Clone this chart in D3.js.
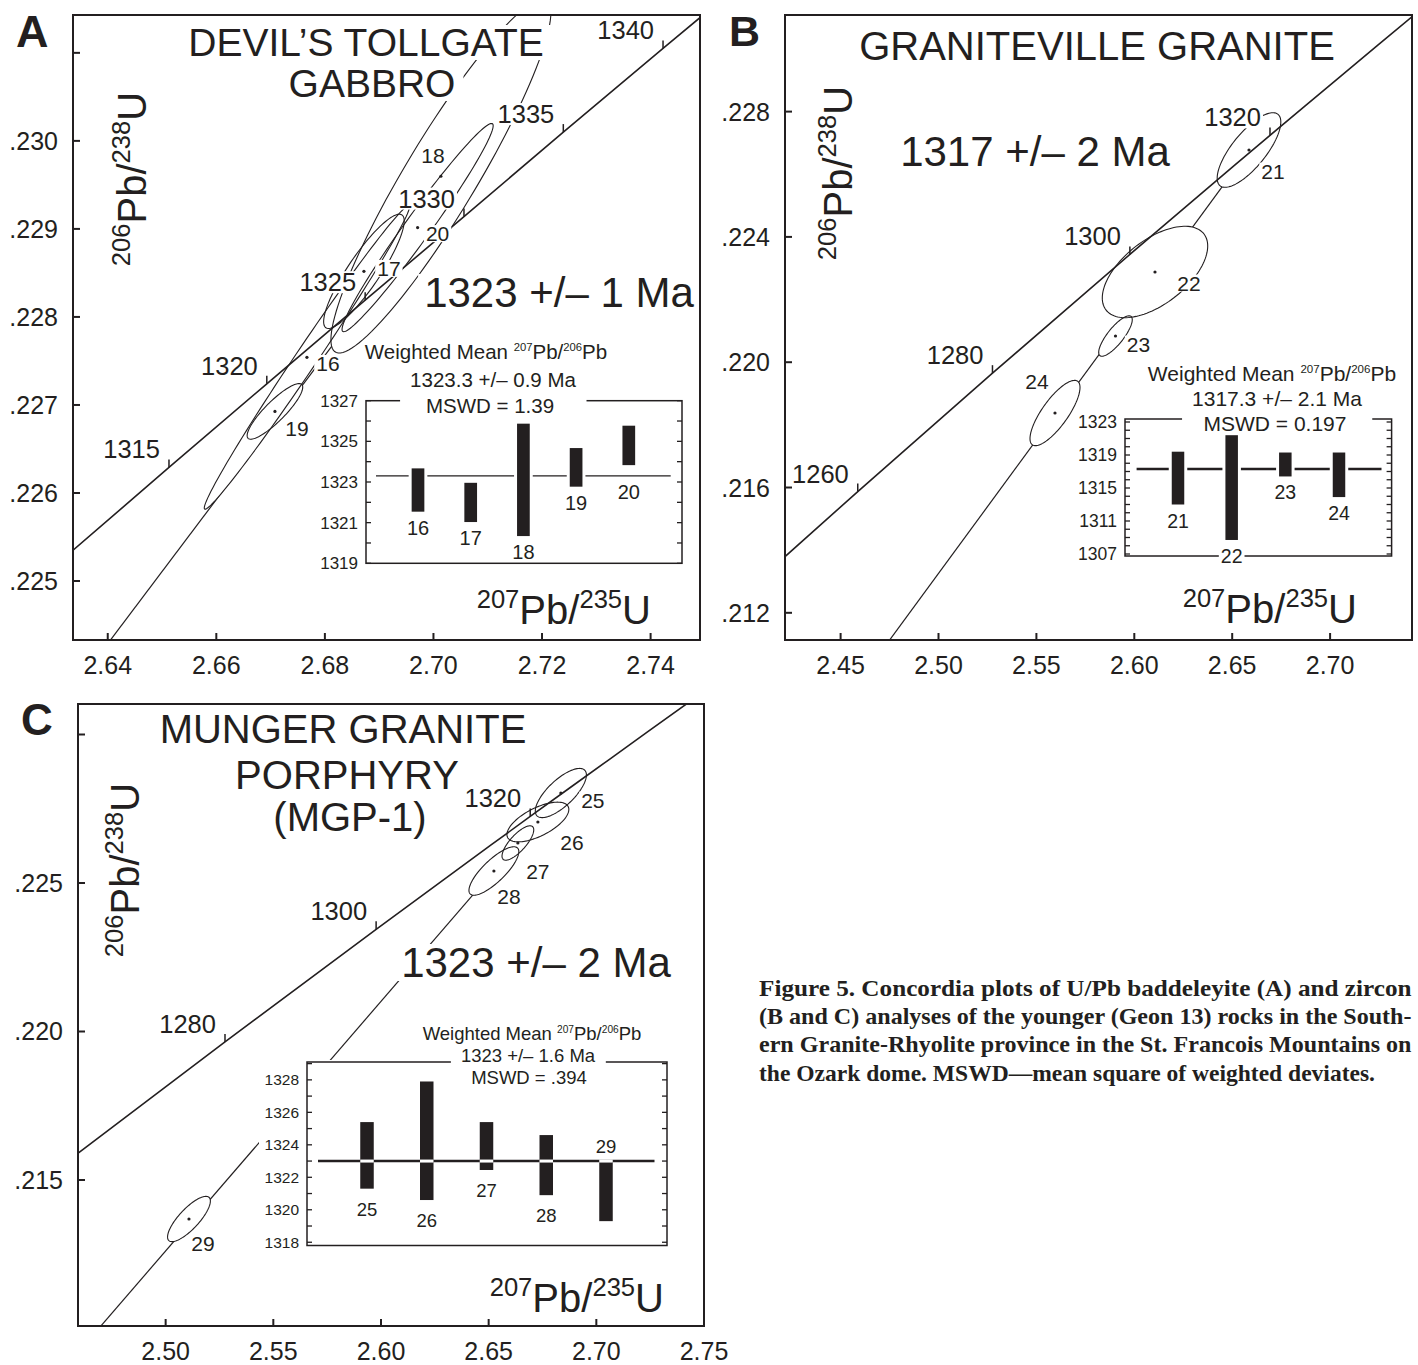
<!DOCTYPE html>
<meta charset="utf-8">
<style>
  body {margin: 0; background: #fff;}
  svg {display: block; font-family: 'Liberation Sans', Arial, sans-serif;}
  text {fill: #231f20;}
</style>

<svg width="1418" height="1365"></svg>

<script src="https://cdnjs.cloudflare.com/ajax/libs/d3/7.8.5/d3.min.js"></script>
<script>

// CONCORDIA REFERENCE POINTS (age Ma, 207Pb/235U, 206Pb/238U)
var concAge = [1240, 1260, 1280, 1300, 1315, 1320, 1325, 1330, 1335, 1340, 1360];
var conc207 = [2.39130, 2.45876, 2.52756, 2.59774, 2.65128, 2.66930, 2.68742, 2.70562, 2.72392, 2.74229, 2.81674];
var conc206 = [0.21210, 0.21587, 0.21965, 0.22344, 0.22629, 0.22724, 0.22819, 0.22914, 0.23010, 0.23105, 0.23488];

// A - DEVIL'S TOLLGATE GABBRO
var aFrac    = [16, 17, 18, 19, 20];
var a207     = [2.67669, 2.68719, 2.70137, 2.67080, 2.69708];
var a207err  = [0.01891, 0.00742, 0.02026, 0.00512, 0.01392];
var a206     = [0.227541, 0.228518, 0.229598, 0.226927, 0.229015];
var a206err  = [0.001725, 0.000649, 0.002008, 0.000316, 0.001183];
var aRho     = [0.992, 0.881, 0.925, 0.871, 0.978];
var aDisc207 = [2.630, 2.700];
var aDisc206 = [0.22347, 0.22920];
var aAges    = [1315, 1320, 1325, 1330, 1335, 1340];
var aXTicks  = [2.64, 2.66, 2.68, 2.70, 2.72, 2.74];
var aYTicks  = [0.225, 0.226, 0.227, 0.228, 0.229, 0.230, 0.231];
var aYLabels = [0.225, 0.226, 0.227, 0.228, 0.229, 0.230];
var aAgeLo   = [1321.54, 1321.03, 1320.34, 1322.77, 1323.83];
var aAgeHi   = [1323.67, 1322.96, 1325.87, 1324.67, 1325.77];
var aMean    = 1323.3;
var aAgeTicks = [1319, 1321, 1323, 1325, 1327];

// B - GRANITEVILLE GRANITE
var bFrac    = [21, 22, 23, 24];
var b207     = [2.65858, 2.61057, 2.59039, 2.55950];
var b207err  = [0.01625, 0.02692, 0.00857, 0.01277];
var b206     = [0.226774, 0.222880, 0.220836, 0.218378];
var b206err  = [0.001191, 0.001459, 0.000645, 0.001042];
var bRho     = [0.752, 0.568, 0.807, 0.783];
var bDisc207 = [2.460, 2.6586];
var bDisc206 = [0.20985, 0.22677];
var bAges    = [1260, 1280, 1300, 1320];
var bXTicks  = [2.45, 2.50, 2.55, 2.60, 2.65, 2.70];
var bYTicks  = [0.212, 0.216, 0.220, 0.224, 0.228];
var bYLabels = [0.212, 0.216, 0.220, 0.224, 0.228];
var bAgeLo   = [1313.0, 1308.7, 1316.4, 1313.9];
var bAgeHi   = [1319.4, 1321.4, 1319.3, 1319.3];
var bMean    = 1317.3;
var bAgeTicks = [1307, 1311, 1315, 1319, 1323];

// C - MUNGER GRANITE PORPHYRY
var cFrac    = [25, 26, 27, 28, 29];
var c207     = [2.68353, 2.67286, 2.66357, 2.65243, 2.51083];
var c207err  = [0.011866, 0.01437, 0.007368, 0.011578, 0.00994];
var c206     = [0.228030, 0.227054, 0.226347, 0.225404, 0.213687];
var c206err  = [0.000828, 0.000668, 0.000579, 0.000816, 0.000762];
var cRho     = [0.731, 0.632, 0.765, 0.800, 0.793];
var cDisc207 = [2.460, 2.6835];
var cDisc206 = [0.20925, 0.22803];
var cAges    = [1280, 1300, 1320];
var cXTicks  = [2.50, 2.55, 2.60, 2.65, 2.70, 2.75];
var cYTicks  = [0.215, 0.220, 0.225, 0.230];
var cYLabels = [0.215, 0.220, 0.225];
var cAgeLo   = [1321.3, 1320.6, 1322.45, 1320.9, 1319.3];
var cAgeHi   = [1325.4, 1327.9, 1325.4, 1324.6, 1323.0];
var cMean    = 1323;
var cAgeTicks = [1318, 1320, 1322, 1324, 1326, 1328];
var cLabelSide = ["below", "below", "below", "below", "above"];

var caption = [
  "Figure 5. Concordia plots of U/Pb baddeleyite (A) and zircon",
  "(B and C) analyses of the younger (Geon 13) rocks in the South-",
  "ern Granite-Rhyolite province in the St. Francois Mountains on",
  "the Ozark dome. MSWD\u2014mean square of weighted deviates."
];

var svg = d3.select("svg"),
    ink = "#231f20";

function ellipsePts(cx, cy, sx, sy, rho) {
  var pts = [], k = Math.sqrt(1 - rho * rho);
  for (var i = 0; i <= 120; i++) {
    var t = 2 * Math.PI * i / 120;
    pts.push([cx + sx * Math.cos(t), cy + sy * (rho * Math.cos(t) + k * Math.sin(t))]);
  }
  return pts;
}

// white box behind a text so the lines under it drop out
function knock(layer, t, px, py) {
  var b = t.node().getBBox();
  layer.append("rect")
    .attr("x", b.x - px).attr("y", b.y - py)
    .attr("width", b.width + 2 * px).attr("height", b.height + 2 * py)
    .attr("fill", "#fff");
}

function ratio(t, a, b, c, d, size, supScale) {
  var s = size * supScale, up = size * 0.4;
  t.append("tspan").attr("font-size", s).attr("dy", -up).text(a);
  t.append("tspan").attr("font-size", size).attr("dy", up).text(b);
  t.append("tspan").attr("font-size", s).attr("dy", -up).text(c);
  t.append("tspan").attr("font-size", size).attr("dy", up).text(d);
}

function drawPanel(p) {
  var x = d3.scaleLinear().domain(p.xDomain).range([p.left, p.right]),
      y = d3.scaleLinear().domain(p.yDomain).range([p.bottom, p.top]);
  var line = d3.line().x(function(d) { return x(d[0]); }).y(function(d) { return y(d[1]); });
  var g = svg.append("g");

  g.append("clipPath").attr("id", "clip" + p.letter)
    .append("rect")
    .attr("x", p.left).attr("y", p.top)
    .attr("width", p.right - p.left).attr("height", p.bottom - p.top);

  var marks = g.append("g").attr("clip-path", "url(#clip" + p.letter + ")");

  // discordia
  marks.append("path")
    .attr("d", line(d3.zip(p.disc207, p.disc206)))
    .attr("fill", "none").attr("stroke", ink).attr("stroke-width", 1.2);

  var ells = p.frac.map(function(id, i) {
    return {id: id, i: i, cx: p.r207[i], cy: p.r206[i],
            pts: ellipsePts(p.r207[i], p.r206[i], p.e207[i], p.e206[i], p.rho[i])};
  });

  marks.selectAll(".efill").data(ells).enter().append("path")
    .attr("d", function(d) { return line(d.pts) + "Z"; })
    .attr("fill", "#fff");
  marks.selectAll(".eline").data(ells).enter().append("path")
    .attr("d", function(d) { return line(d.pts) + "Z"; })
    .attr("fill", "none").attr("stroke", ink).attr("stroke-width", 1.1);
  marks.selectAll(".dot").data(ells).enter().append("circle")
    .attr("cx", function(d) { return x(d.cx); })
    .attr("cy", function(d) { return y(d.cy); })
    .attr("r", 1.6).attr("fill", ink);

  // concordia
  marks.append("path")
    .attr("d", line(d3.zip(conc207, conc206)))
    .attr("fill", "none").attr("stroke", ink).attr("stroke-width", 1.6);

  var ages = concAge.map(function(a, i) { return {age: a, x: conc207[i], y: conc206[i]}; })
    .filter(function(d) { return p.ages.indexOf(d.age) >= 0; });

  marks.selectAll(".ctick").data(ages).enter().append("line")
    .attr("x1", function(d) { return x(d.x); })
    .attr("x2", function(d) { return x(d.x); })
    .attr("y1", function(d) { return y(d.y); })
    .attr("y2", function(d) { return y(d.y) - 8; })
    .attr("stroke", ink).attr("stroke-width", 1.5);

  var bg = g.append("g"), tx = g.append("g");

  function put(xp, yp, str, size, anchor) {
    return tx.append("text")
      .attr("x", xp).attr("y", yp)
      .attr("font-size", size)
      .attr("text-anchor", anchor || "start")
      .text(str);
  }

  ages.forEach(function(d) {
    knock(bg, put(x(d.x) - 9, y(d.y) - 9, d.age, 25.5, "end"), 2, -3);
  });

  ells.forEach(function(d) {
    var t = put(x(d.cx) + p.labDx[d.i], y(d.cy) + p.labDy[d.i], d.id, 21, "middle")
      .attr("dy", "0.36em");
    knock(bg, t, 2, -3);
  });

  p.title.forEach(function(s) {
    knock(bg, put(s[1], s[2], s[0], p.titleSize, "middle"), 8, -4);
  });
  knock(bg, put(p.result[1], p.result[2], p.result[0], 42, "middle"), 6, -5);

  // axis titles
  var xt = tx.append("text")
    .attr("x", p.xTitle[0]).attr("y", p.xTitle[1])
    .attr("text-anchor", "end");
  ratio(xt, "207", "Pb/", "235", "U", 40, 0.64);
  knock(bg, xt, 4, -4);

  var yt = tx.append("text")
    .attr("transform", "translate(" + p.yTitle[0] + "," + p.yTitle[1] + ") rotate(-90)")
    .attr("text-anchor", "middle");
  ratio(yt, "206", "Pb/", "238", "U", 40, 0.64);

  if (p.inset) drawInset(g, p.inset);

  // frame and axes
  g.append("rect")
    .attr("x", p.left).attr("y", p.top)
    .attr("width", p.right - p.left).attr("height", p.bottom - p.top)
    .attr("fill", "none").attr("stroke", ink).attr("stroke-width", 2);

  g.selectAll(".xt").data(p.xTicks).enter().append("line")
    .attr("x1", x).attr("x2", x)
    .attr("y1", p.bottom).attr("y2", p.bottom - 7)
    .attr("stroke", ink).attr("stroke-width", 2);
  g.selectAll(".xl").data(p.xTicks).enter().append("text")
    .attr("x", x).attr("y", p.bottom + 34)
    .attr("text-anchor", "middle").attr("font-size", 25)
    .text(d3.format(".2f"));

  g.selectAll(".yt").data(p.yTicks).enter().append("line")
    .attr("x1", p.left).attr("x2", p.left + 7)
    .attr("y1", y).attr("y2", y)
    .attr("stroke", ink).attr("stroke-width", 2);
  g.selectAll(".yl").data(p.yLabels).enter().append("text")
    .attr("x", p.left - 15).attr("y", y).attr("dy", "0.36em")
    .attr("text-anchor", "end").attr("font-size", 25)
    .text(function(d) { return d3.format(".3f")(d).replace(/^0/, ""); });

  g.append("text")
    .attr("x", p.letterPos[0]).attr("y", p.letterPos[1])
    .attr("font-size", p.letterSize).attr("font-weight", "bold")
    .text(p.letter);
}

function drawInset(parent, s) {
  var y = d3.scaleLinear().domain(s.dom).range(s.yRange),
      x = d3.scalePoint().domain(s.frac).range(s.barX);
  var g = parent.append("g");
  var bg = g.append("g");

  // white ground for box and tick labels
  bg.append("rect")
    .attr("x", s.x0 - 48).attr("y", s.y0 - 2)
    .attr("width", s.x1 - s.x0 + 50).attr("height", s.y1 - s.y0 + 4)
    .attr("fill", "#fff");

  g.append("rect")
    .attr("x", s.x0).attr("y", s.y0)
    .attr("width", s.x1 - s.x0).attr("height", s.y1 - s.y0)
    .attr("fill", "none").attr("stroke", ink).attr("stroke-width", 1.5);

  var minor = d3.range(Math.ceil(s.dom[0]), Math.floor(s.dom[1]) + 1);
  [[s.x0, 1], [s.x1, -1]].forEach(function(side) {
    g.selectAll(null).data(minor).enter().append("line")
      .attr("x1", side[0]).attr("x2", side[0] + side[1] * 5)
      .attr("y1", y).attr("y2", y)
      .attr("stroke", ink).attr("stroke-width", 1.3);
  });
  g.selectAll(null).data(s.ticks).enter().append("text")
    .attr("x", s.x0 - 8).attr("y", y).attr("dy", "0.36em")
    .attr("text-anchor", "end").attr("font-size", s.tickSize)
    .text(function(d) { return d; });

  // title
  var tbg = g.append("g"), tg = g.append("g");
  var t1 = tg.append("text").attr("x", s.titleX[0]).attr("y", s.titleY[0])
    .attr("text-anchor", "middle").attr("font-size", s.titleSize);
  t1.append("tspan").text("Weighted Mean ");
  ratio(t1, "207", "Pb/", "206", "Pb", s.titleSize, 0.55);
  var t2 = tg.append("text").attr("x", s.titleX[1]).attr("y", s.titleY[1])
    .attr("text-anchor", "middle").attr("font-size", s.titleSize).text(s.lines[0]);
  var t3 = tg.append("text").attr("x", s.titleX[2]).attr("y", s.titleY[2])
    .attr("text-anchor", "middle").attr("font-size", s.titleSize).text(s.lines[1]);
  knock(tbg, t1, 2, -3);
  var b2 = t2.node().getBBox(), b3 = t3.node().getBBox();
  tbg.append("rect")
    .attr("x", b2.x - s.titlePad).attr("y", b2.y + 3)
    .attr("width", b2.width + 2 * s.titlePad).attr("height", b3.y + b3.height - b2.y - 6)
    .attr("fill", "#fff");

  // weighted mean line
  g.append("line")
    .attr("x1", s.meanX[0]).attr("x2", s.meanX[1])
    .attr("y1", y(s.mean)).attr("y2", y(s.mean))
    .attr("stroke", ink).attr("stroke-width", s.meanW);

  var bars = s.frac.map(function(id, i) { return {id: id, lo: s.lo[i], hi: s.hi[i], side: s.side ? s.side[i] : "below"}; });

  if (s.style === "gap") {
    g.selectAll(null).data(bars).enter().append("rect")
      .attr("x", function(d) { return x(d.id) - s.barW / 2 - 3; })
      .attr("y", function(d) { return y(d.hi); })
      .attr("width", s.barW + 6)
      .attr("height", function(d) { return y(d.lo) - y(d.hi); })
      .attr("fill", "#fff");
  }
  g.selectAll(null).data(bars).enter().append("rect")
    .attr("x", function(d) { return x(d.id) - s.barW / 2; })
    .attr("y", function(d) { return y(d.hi); })
    .attr("width", s.barW)
    .attr("height", function(d) { return y(d.lo) - y(d.hi); })
    .attr("fill", ink);
  if (s.style === "cut") {
    g.selectAll(null).data(bars.filter(function(d) { return d.lo < s.mean && d.hi > s.mean - 0.2; }))
      .enter().append("line")
      .attr("x1", function(d) { return x(d.id) - s.barW / 2; })
      .attr("x2", function(d) { return x(d.id) + s.barW / 2; })
      .attr("y1", y(s.mean)).attr("y2", y(s.mean))
      .attr("stroke", "#fff").attr("stroke-width", 3);
  }

  var lbg = g.append("g"), lg = g.append("g");
  bars.forEach(function(d) {
    var yp = d.side === "above"
      ? Math.min(y(d.hi), y(s.mean)) - 8
      : Math.max(y(d.lo), y(s.mean)) + s.labelGap;
    var t = lg.append("text")
      .attr("x", x(d.id)).attr("y", Math.min(yp, s.y1 + 7))
      .attr("text-anchor", "middle").attr("font-size", s.labelSize)
      .text(d.id);
    knock(lbg, t, 2, -3);
  });
}

drawPanel({
  letter: "A", letterPos: [16, 47], letterSize: 45,
  left: 73, right: 700, top: 15, bottom: 640,
  xDomain: [2.6336, 2.7491], yDomain: [0.22433, 0.23143],
  xTicks: aXTicks, yTicks: aYTicks, yLabels: aYLabels,
  frac: aFrac, r207: a207, e207: a207err, r206: a206, e206: a206err, rho: aRho,
  disc207: aDisc207, disc206: aDisc206, ages: aAges,
  labDx: [21, 25, -8, 22, 20], labDy: [6, -3, -21, 17, 6],
  title: [["DEVIL\u2019S TOLLGATE", 366, 56], ["GABBRO", 372, 97]], titleSize: 39,
  result: ["1323 +/\u2013 1 Ma", 559, 307],
  xTitle: [651, 624], yTitle: [146, 179],
  inset: {
    frac: aFrac, lo: aAgeLo, hi: aAgeHi, mean: aMean, ticks: aAgeTicks,
    x0: 366, x1: 682, y0: 400.7, y1: 563.3,
    dom: [1319, 1327], yRange: [563.3, 400.7],
    barX: [418, 628.8], barW: 12.7, meanX: [376, 670.7], meanW: 1.3, style: "gap",
    lines: ["1323.3 +/\u2013 0.9 Ma", "MSWD = 1.39"],
    titleX: [486, 493, 490], titleY: [359, 386.7, 412.7], titleSize: 20.5, titlePad: 10,
    tickSize: 17, labelSize: 20, labelGap: 23
  }
});

drawPanel({
  letter: "B", letterPos: [729, 46], letterSize: 43,
  left: 785, right: 1412, top: 15, bottom: 640,
  xDomain: [2.4216, 2.74183], yDomain: [0.211132, 0.231084],
  xTicks: bXTicks, yTicks: bYTicks, yLabels: bYLabels,
  frac: bFrac, r207: b207, e207: b207err, r206: b206, e206: b206err, rho: bRho,
  disc207: bDisc207, disc206: bDisc206, ages: bAges,
  labDx: [24, 34, 23, -18], labDy: [21, 11, 8, -32],
  title: [["GRANITEVILLE GRANITE", 1097, 60]], titleSize: 40,
  result: ["1317 +/\u2013 2 Ma", 1035, 166],
  xTitle: [1357, 623], yTitle: [852, 173],
  inset: {
    frac: bFrac, lo: bAgeLo, hi: bAgeHi, mean: bMean, ticks: bAgeTicks,
    x0: 1125, x1: 1391.6, y0: 419, y1: 556,
    dom: [1307, 1323], yRange: [554, 422],
    barX: [1178, 1339], barW: 12.5, meanX: [1136.6, 1381.5], meanW: 2.4, style: "gap",
    lines: ["1317.3 +/\u2013 2.1 Ma", "MSWD = 0.197"],
    titleX: [1272, 1277, 1275], titleY: [381, 406, 431], titleSize: 21, titlePad: 10,
    tickSize: 17.5, labelSize: 19.5, labelGap: 23
  }
});

drawPanel({
  letter: "C", letterPos: [21, 735], letterSize: 44,
  left: 78, right: 704, top: 704, bottom: 1326,
  xDomain: [2.4593, 2.75], yDomain: [0.210084, 0.231027],
  xTicks: cXTicks, yTicks: cYTicks, yLabels: cYLabels,
  frac: cFrac, r207: c207, e207: c207err, r206: c206, e206: c206err, rho: cRho,
  disc207: cDisc207, disc206: cDisc206, ages: cAges,
  labDx: [32, 34, 20, 15, 14], labDy: [7, 20, 28, 25, 24],
  title: [["MUNGER GRANITE", 343, 743], ["PORPHYRY", 347, 789], ["(MGP-1)", 350, 831]], titleSize: 40,
  result: ["1323 +/\u2013 2 Ma", 536, 977],
  xTitle: [664, 1312], yTitle: [139, 870],
  inset: {
    frac: cFrac, lo: cAgeLo, hi: cAgeHi, mean: cMean, ticks: cAgeTicks, side: cLabelSide,
    x0: 307, x1: 667, y0: 1062, y1: 1245.5,
    dom: [1317.8, 1329.1], yRange: [1245.5, 1062],
    barX: [367, 606], barW: 13.5, meanX: [318, 654.5], meanW: 2.6, style: "cut",
    lines: ["1323 +/\u2013 1.6 Ma", "MSWD = .394"],
    titleX: [532, 528, 529], titleY: [1040, 1062, 1084], titleSize: 18.5, titlePad: 10,
    tickSize: 15.5, labelSize: 18.5, labelGap: 27
  }
});

// CAPTION
svg.append("g").selectAll("text").data(caption).enter().append("text")
  .attr("x", 759)
  .attr("y", function(d, i) { return 996 + i * 28.2; })
  .attr("font-family", "'Liberation Serif', 'Times New Roman', serif")
  .attr("font-weight", "bold").attr("font-size", 23)
  .attr("textLength", function(d, i) { return i < 3 ? 652.5 : 616; })
  .attr("lengthAdjust", "spacingAndGlyphs")
  .text(function(d) { return d; });

</script>
